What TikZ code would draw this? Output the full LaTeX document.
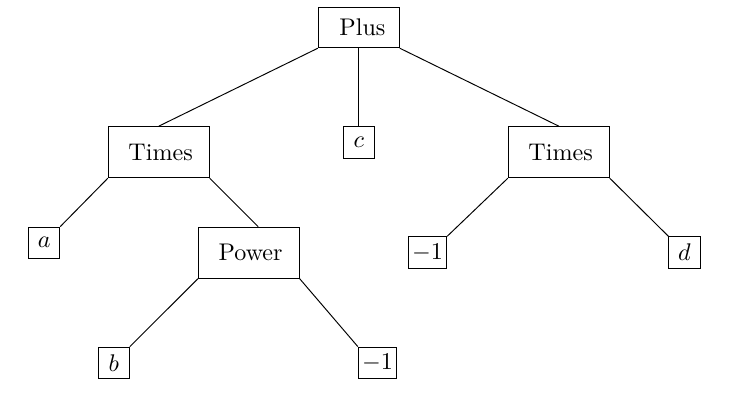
\documentclass[tikz,border=0pt]{standalone}
\begin{document}
\begin{tikzpicture}[
	x=0.415pt,
	y=-0.415pt,
	op/.style={
		rectangle,
		draw=black,
		inner sep=0pt,
		minimum width=41.9pt,
		minimum height=21.2pt
	},
	leaf/.style={
		rectangle,
		draw=black,
		inner sep=0pt,
		minimum width=12.9pt,
		minimum height=13pt
	},
]
\useasboundingbox (0,0) rectangle (731,408);

% Root
\node[op, minimum width=33.6pt, minimum height=16.8pt] (plus) at (358.8, 27.5) {\hspace*{3pt}Plus};

% Level 1
\node[op] (timesL) at (158.8, 152.2) {\hspace*{1.5pt}Times};
\node[leaf] (c) at (358.8, 142.5) {$c$};
\node[op] (timesR) at (558.8, 152.2) {\hspace*{1.5pt}Times};

% Level 2
\node[leaf] (a) at (44.2, 242.8) {$a$};
\node[op] (power) at (248.8, 252.8) {\hspace*{1.5pt}Power};
\node[leaf, minimum width=15.9pt] (negA) at (427.5, 252.5) {$-1$};
\node[leaf] (d) at (684.5, 252.5) {$d$};

% Level 3
\node[leaf] (b) at (113.8, 362.8) {$b$};
\node[leaf, minimum width=15.9pt] (negB) at (377.5, 362.8) {$-1$};

% Connection Plus
\draw (plus.south west) -- (timesL.north);
\draw (plus.south) -- (c.north);
\draw (plus.south east) -- (timesR.north);

% Connection Times (left)
\draw (timesL.south west) -- (a.north east);
\draw (timesL.south east) -- ([xshift=3.9pt]power.north);

% Connection Power
\draw (power.south west) -- (b.north east);
\draw (power.south east) -- (negB.north west);

% Connection Times (right)
\draw (timesR.south west) -- (negA.north east);
\draw (timesR.south east) -- (d.north west);

\end{tikzpicture}
\end{document}
